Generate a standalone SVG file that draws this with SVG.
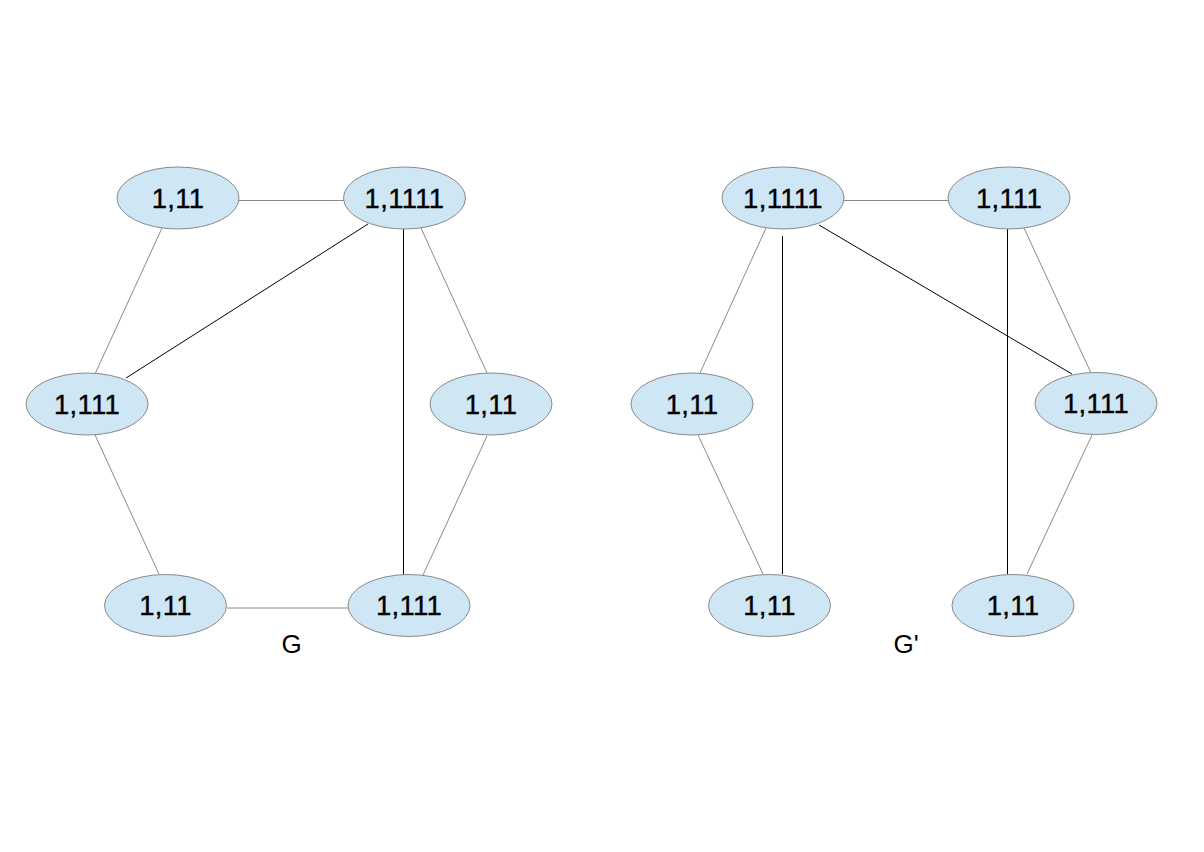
<svg xmlns="http://www.w3.org/2000/svg" width="1204" height="852" viewBox="0 0 1204 852">
<style>
.n ellipse{fill:#cfe6f4;stroke:#8a8a8a;stroke-width:1}
.n text{font-family:"Liberation Sans",Arial,sans-serif;font-size:27.5px;fill:#000;stroke:#000;stroke-width:0.35;text-anchor:middle;letter-spacing:0.3px}
.g{stroke:#8a8a8a;stroke-width:1;fill:none}
.b{stroke:#000;stroke-width:1;fill:none}
.lbl{font-family:"Liberation Sans",Arial,sans-serif;font-size:26px;fill:#000;text-anchor:middle}
</style>
<rect width="1204" height="852" fill="#fff"/>
<g id="connectors">
<line class="g" x1="239" y1="200.5" x2="344" y2="200.5"/>
<line class="g" x1="162" y1="228" x2="95" y2="374"/>
<line class="b" x1="368" y1="224" x2="126" y2="378"/>
<line class="b" x1="403.5" y1="229" x2="403.5" y2="575"/>
<line class="g" x1="421" y1="228" x2="487" y2="373"/>
<line class="g" x1="487" y1="436" x2="423" y2="575"/>
<line class="g" x1="95" y1="435" x2="159" y2="574"/>
<line class="g" x1="227" y1="608" x2="348" y2="608"/>
<line class="g" x1="844" y1="200.5" x2="948" y2="200.5"/>
<line class="g" x1="766" y1="228" x2="700" y2="373"/>
<line class="b" x1="782.5" y1="236" x2="782.5" y2="574"/>
<line class="b" x1="819" y1="225" x2="1072" y2="374"/>
<line class="b" x1="1007.5" y1="229" x2="1007.5" y2="574"/>
<line class="g" x1="1024" y1="228" x2="1091" y2="373"/>
<line class="g" x1="1092" y1="435" x2="1027" y2="574"/>
<line class="g" x1="698" y1="435" x2="763" y2="574"/>
</g>
<g id="G-n1" class="n"><ellipse cx="178" cy="198" rx="61" ry="31"/><text x="178" y="207.5">1,11</text></g>
<g id="G-n2" class="n"><ellipse cx="404.5" cy="198" rx="61" ry="31"/><text x="404.5" y="207.5">1,1111</text></g>
<g id="G-n3" class="n"><ellipse cx="87" cy="404" rx="61" ry="31"/><text x="87" y="413.5">1,111</text></g>
<g id="G-n4" class="n"><ellipse cx="491" cy="404" rx="61" ry="31"/><text x="491" y="413.5">1,11</text></g>
<g id="G-n5" class="n"><ellipse cx="165.5" cy="605.5" rx="61" ry="31"/><text x="165.5" y="615">1,11</text></g>
<g id="G-n6" class="n"><ellipse cx="409" cy="605.5" rx="61" ry="31"/><text x="409" y="615">1,111</text></g>
<g id="Gp-n1" class="n"><ellipse cx="783" cy="198" rx="61" ry="31"/><text x="783" y="207.5">1,1111</text></g>
<g id="Gp-n2" class="n"><ellipse cx="1009" cy="198" rx="61" ry="31"/><text x="1009" y="207.5">1,111</text></g>
<g id="Gp-n3" class="n"><ellipse cx="692" cy="404" rx="61" ry="31"/><text x="692" y="413.5">1,11</text></g>
<g id="Gp-n4" class="n"><ellipse cx="1096" cy="403.5" rx="61" ry="31"/><text x="1096" y="413">1,111</text></g>
<g id="Gp-n5" class="n"><ellipse cx="769.5" cy="605.5" rx="61" ry="31"/><text x="769.5" y="615">1,11</text></g>
<g id="Gp-n6" class="n"><ellipse cx="1013" cy="605.5" rx="61" ry="31"/><text x="1013" y="615">1,11</text></g>
<text id="label-G" class="lbl" x="291.5" y="653">G</text>
<text id="label-Gp" class="lbl" x="906" y="653">G'</text>
</svg>
